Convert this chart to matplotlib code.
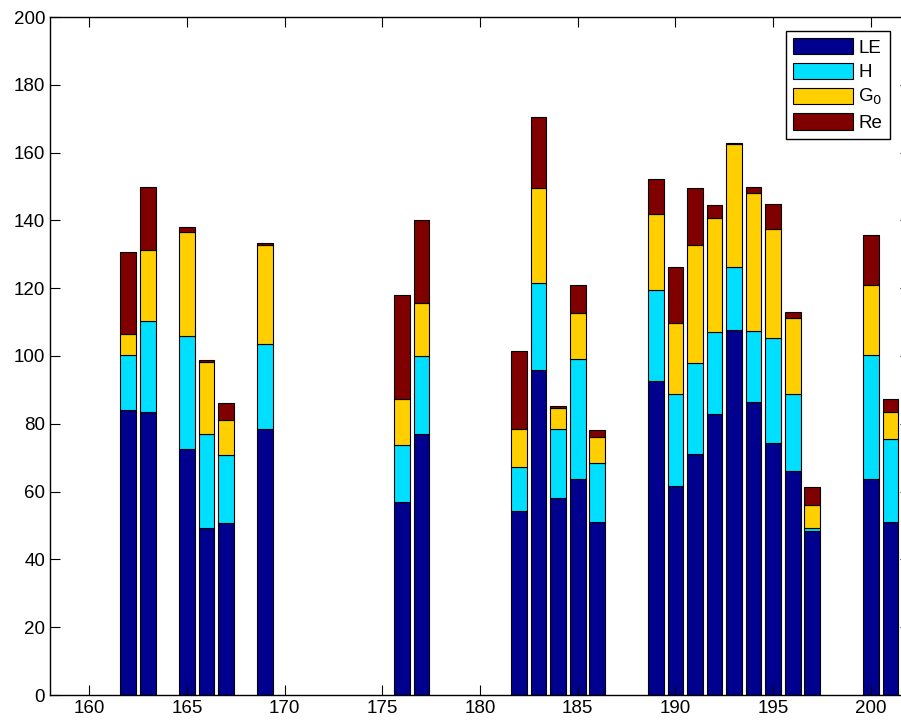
import numpy as np
import matplotlib.pyplot as plt

plt.rcParams['font.family'] = ['Liberation Sans', 'DejaVu Sans']

# day of year and cumulative tops
days = [162, 163, 165, 166, 167, 169, 176, 177, 182, 183, 184, 185,
        186, 189, 190, 191, 192, 193, 194, 195, 196, 197, 200, 201]
le_top = [84.1, 83.6, 72.6, 49.2, 50.8, 78.5, 56.8, 76.9, 54.4, 95.9, 58.0, 63.7,
          50.9, 92.7, 61.7, 71.0, 82.8, 107.7, 86.4, 74.4, 66.2, 48.4, 63.8, 50.9]
h_top = [100.4, 110.2, 105.8, 77.0, 70.7, 103.4, 73.6, 100.0, 67.2, 121.6, 78.6, 99.0,
         68.3, 119.4, 88.7, 98.0, 107.1, 126.4, 107.3, 105.2, 88.9, 49.4, 100.3, 75.4]
g0_top = [106.5, 131.2, 136.5, 98.2, 81.2, 132.6, 87.4, 115.5, 78.4, 149.5, 84.8, 112.6,
          76.1, 142.0, 109.6, 132.7, 140.8, 162.6, 148.1, 137.6, 111.1, 56.1, 120.9, 83.4]
re_top = [130.6, 149.8, 138.0, 98.7, 86.2, 133.4, 118.0, 140.0, 101.5, 170.5, 85.2, 120.9,
          78.1, 152.3, 126.4, 149.5, 144.6, 162.9, 149.8, 144.8, 113.0, 61.5, 135.6, 87.2]

LE = np.array(le_top)
H = np.array(h_top) - LE
G0 = np.array(g0_top) - np.array(h_top)
Re = np.array(re_top) - np.array(g0_top)

fig = plt.figure(figsize=(9.01, 7.21), dpi=100)
ax = fig.add_axes([50 / 901, 26 / 721, 860 / 901, 678 / 721])

colors = ['#00008F', '#00DFFF', '#FFCF00', '#800000']
labels = ['LE', 'H', 'G$_0$', 'Re']
bottom = np.zeros(len(days))
for vals, c, lab in zip([LE, H, G0, Re], colors, labels):
    ax.bar(days, vals, width=0.8, bottom=bottom, color=c, edgecolor='black',
           linewidth=0.8, label=lab)
    bottom = bottom + vals

ax.set_xlim(158, 202)
ax.set_ylim(0, 200)
ax.set_xticks(range(160, 201, 5))
ax.set_yticks(range(0, 201, 20))
ax.tick_params(direction='in', length=7, width=0.8, labelsize=13.5, top=True, right=True)
for s in ax.spines.values():
    s.set_linewidth(1.0)

leg = ax.legend(loc='upper right', bbox_to_anchor=(0.9767, 0.98), fontsize=13.5,
                fancybox=False, edgecolor='black', framealpha=1, handlelength=3.2,
                handleheight=0.95, labelspacing=0.32, handletextpad=0.25,
                borderpad=0.4, borderaxespad=0)
leg.get_frame().set_linewidth(1.0)

fig.savefig('out.png', dpi=100)
